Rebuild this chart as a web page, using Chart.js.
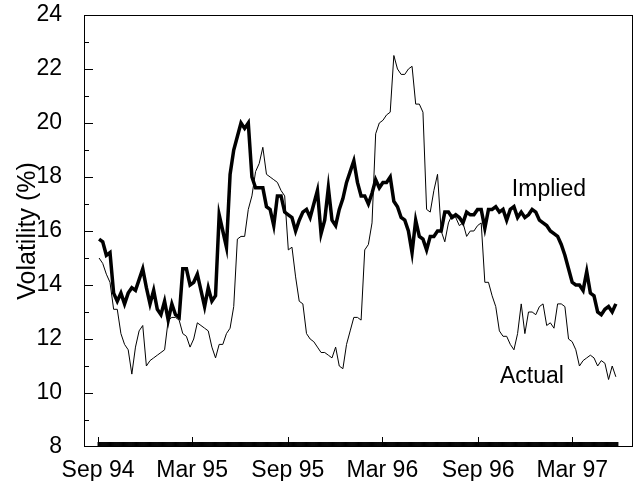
<!DOCTYPE html>
<html>
<head>
<meta charset="utf-8">
<script src="https://cdn.jsdelivr.net/npm/chart.js@4"></script>
<style>
  body { margin: 0; background: #fff; }
  #wrap { width: 635px; height: 481px; }
</style>
</head>
<body>
<div id="wrap"><canvas id="volChart"></canvas></div>
<script>
// weekly readings, first one a couple of days after 1 Sep 1994
const startDay = 2;
const stepDays = 7;

const implied = [
  15.7, 15.6, 15.1, 15.2, 13.7, 13.4, 13.7, 13.3, 13.7, 13.9,
  13.8, 14.2, 14.6, 13.9, 13.3, 13.8, 13.1, 12.9, 13.4, 12.7,
  13.3, 12.9, 12.8, 14.6, 14.6, 14.0, 14.1, 14.4, 13.8, 13.2,
  13.9, 13.4, 13.6, 16.6, 16.0, 15.4, 18.1, 19.0, 19.5, 20.0,
  19.8, 20.0, 18.0, 17.6, 17.6, 17.6, 16.9, 16.8, 16.2, 17.3,
  17.3, 16.7, 16.6, 16.5, 16.0, 16.4, 16.7, 16.8, 16.5, 17.0,
  17.5, 15.9, 16.4, 17.6, 16.4, 16.2, 16.8, 17.2, 17.8, 18.2,
  18.6, 17.8, 17.3, 17.3, 17.0, 17.4, 17.9, 17.6, 17.8, 17.8,
  18.0, 17.1, 16.9, 16.5, 16.4, 16.0, 15.2, 16.4, 15.8, 15.7,
  15.3, 15.8, 15.8, 16.0, 16.0, 16.7, 16.7, 16.5, 16.6, 16.5,
  16.3, 16.7, 16.6, 16.6, 16.8, 16.8, 16.1, 16.8, 16.8, 16.9,
  16.7, 16.8, 16.4, 16.8, 16.9, 16.5, 16.7, 16.5, 16.6, 16.8,
  16.7, 16.4, 16.3, 16.2, 16.0, 15.9, 15.8, 15.5, 15.1, 14.6,
  14.1, 14.0, 14.0, 13.8, 14.5, 13.7, 13.6, 13.0, 12.9, 13.1,
  13.2, 13.0, 13.3
];

const actual = [
  15.0, 14.8, 14.4, 14.1, 13.1, 13.1, 12.2, 11.8, 11.6, 10.7,
  11.7, 12.3, 12.5, 11.0, 11.2, 11.3, 11.4, 11.5, 11.6, 12.7,
  12.8, 12.8, 12.7, 12.2, 12.1, 11.7, 12.0, 12.6, 12.5, 12.4,
  12.3, 11.7, 11.3, 11.8, 11.8, 12.2, 12.4, 13.2, 15.7, 15.8,
  15.8, 16.8, 17.3, 18.2, 18.5, 19.1, 18.1, 18.0, 17.9, 17.8,
  17.5, 17.3, 15.3, 15.4, 14.3, 13.4, 13.3, 12.2, 12.0, 11.9,
  11.7, 11.5, 11.5, 11.4, 11.3, 11.7, 11.0, 10.9, 11.8, 12.3,
  12.8, 12.8, 12.7, 15.3, 15.5, 16.3, 19.6, 20.0, 20.1, 20.3,
  20.4, 22.5, 22.0, 21.8, 21.8, 22.0, 22.1, 20.7, 20.7, 20.4,
  16.8, 16.7, 17.5, 18.1, 16.0, 15.6, 16.3, 16.6, 16.5, 16.2,
  16.3, 15.8, 16.0, 16.0, 16.2, 16.3, 14.1, 14.1, 13.6, 13.2,
  12.3, 12.1, 12.1, 11.8, 11.6, 12.2, 13.3, 12.2, 13.0, 13.0,
  12.9, 13.2, 13.3, 12.5, 12.6, 12.4, 13.3, 13.3, 13.2, 12.0,
  11.9, 11.6, 11.0, 11.2, 11.3, 11.4, 11.3, 11.0, 11.2, 11.1,
  10.5, 11.0, 10.6
];

// x axis: days since 1 Sep 1994
const tickDays = [0, 181, 365, 547, 731, 912];
const tickLabels = ["Sep 94", "Mar 95", "Sep 95", "Mar 96", "Sep 96", "Mar 97"];

const FONT = "'Liberation Sans', Arial, sans-serif";

function toPoints(values) {
  return values.map((v, i) => ({ x: startDay + i * stepDays, y: v }));
}

// box, inward tick marks, daily tick band and the two line labels
const frame = {
  id: "frame",
  afterDatasetsDraw(chart) {
    const { ctx, chartArea: a, scales } = chart;
    const x = scales.x, y = scales.y;
    ctx.save();
    ctx.strokeStyle = "#000";
    ctx.lineWidth = 1;
    ctx.strokeRect(a.left + 0.5, a.top + 0.5, a.right - a.left - 1, a.bottom - a.top - 1);

    ctx.beginPath();
    for (let v = 9; v < 24; v++) {
      const py = Math.round(y.getPixelForValue(v)) + 0.5;
      const len = v % 2 === 0 ? 9 : 5;
      ctx.moveTo(a.left, py);
      ctx.lineTo(a.left + len, py);
    }
    tickDays.forEach((d) => {
      const px = Math.round(x.getPixelForValue(d)) + 0.5;
      ctx.moveTo(px, a.bottom);
      ctx.lineTo(px, a.bottom - 10);
    });
    // one small tick per day -> reads as a solid band
    const lastDay = startDay + (implied.length - 1) * stepDays + 4;
    for (let d = 0; d <= lastDay; d++) {
      const px = x.getPixelForValue(d);
      ctx.moveTo(px, a.bottom);
      ctx.lineTo(px, a.bottom - 5);
    }
    ctx.stroke();

    ctx.fillStyle = "#000";
    ctx.font = "23px " + FONT;
    ctx.textAlign = "left";
    ctx.textBaseline = "alphabetic";
    ctx.fillText("Implied", x.getPixelForValue(796), y.getPixelForValue(17.31));
    ctx.fillText("Actual", x.getPixelForValue(773), y.getPixelForValue(10.36));
    ctx.restore();
  },
};

new Chart(document.getElementById("volChart"), {
  type: "line",
  data: {
    datasets: [
      {
        label: "Implied",
        data: toPoints(implied),
        borderColor: "#000",
        borderWidth: 3.5,
        pointRadius: 0,
        tension: 0,
      },
      {
        label: "Actual",
        data: toPoints(actual),
        borderColor: "#000",
        borderWidth: 1,
        pointRadius: 0,
        tension: 0,
      },
    ],
  },
  options: {
    responsive: true,
    maintainAspectRatio: false,
    animation: false,
    layout: { padding: { top: 15, right: 2, left: 0, bottom: 0 } },
    plugins: {
      legend: { display: false },
      tooltip: { enabled: false },
    },
    scales: {
      x: {
        type: "linear",
        min: -27,
        max: 1029,
        grid: { display: false },
        border: { display: false },
        afterFit: (s) => { s.height = 34; },
        afterBuildTicks: (s) => { s.ticks = tickDays.map((d) => ({ value: d })); },
        ticks: {
          autoSkip: false,
          maxRotation: 0,
          padding: 2,
          color: "#000",
          font: { family: FONT, size: 23 },
          callback: (v) => tickLabels[tickDays.indexOf(v)],
        },
      },
      y: {
        min: 8,
        max: 24,
        // invisible tick marks only push the labels away from the axis
        grid: { drawOnChartArea: false, drawTicks: true, tickLength: 22, color: "rgba(0,0,0,0)" },
        border: { display: false },
        afterFit: (s) => { s.width = 84; },
        ticks: {
          stepSize: 2,
          padding: 0,
          color: "#000",
          font: { family: FONT, size: 23 },
        },
        title: {
          display: true,
          text: "Volatility (%)",
          color: "#000",
          font: { family: FONT, size: 25 },
          padding: { top: 13, bottom: 0 },
        },
      },
    },
  },
  plugins: [frame],
});
</script>
</body>
</html>
